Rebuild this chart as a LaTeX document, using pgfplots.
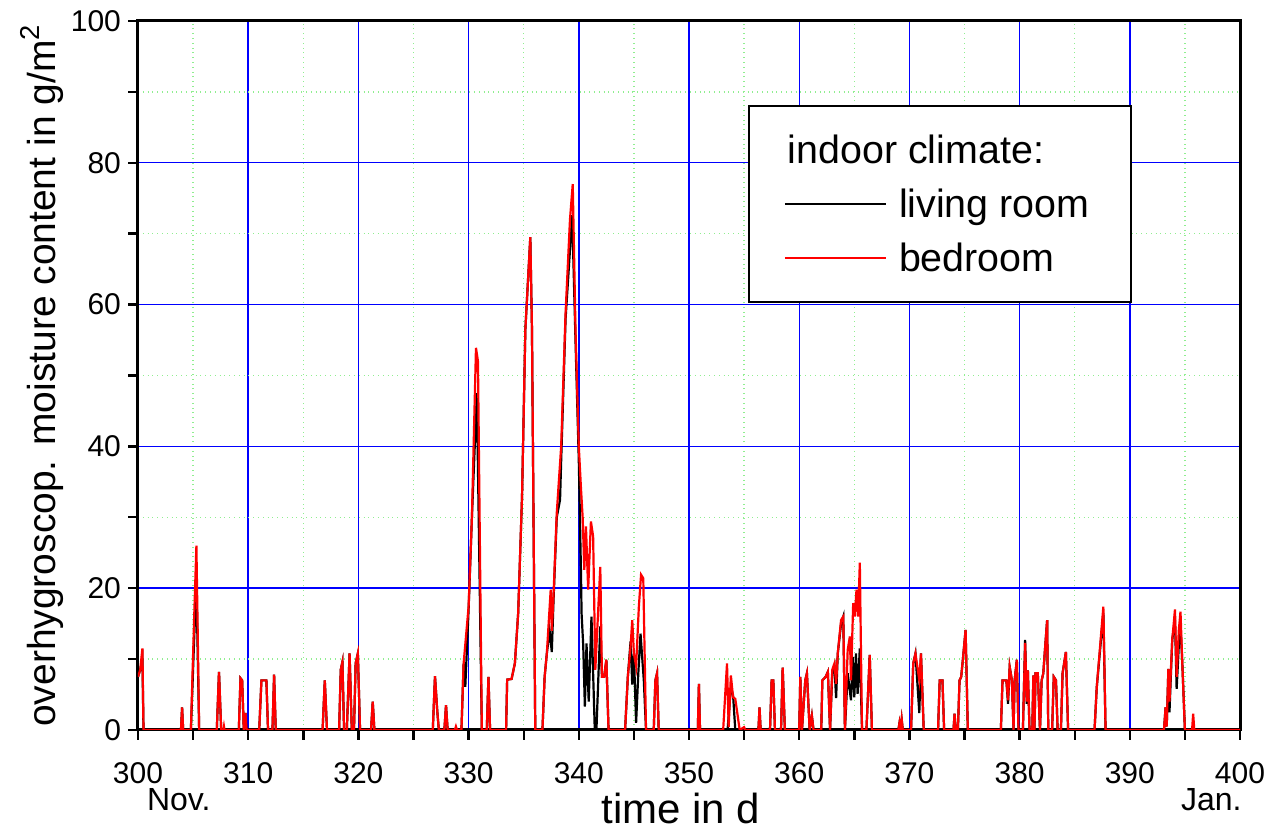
\documentclass[border=0pt]{standalone}
\usepackage{fontspec}
\setmainfont{Liberation Sans}
\usepackage{pgfplots}
\pgfplotsset{compat=1.18}
\definecolor{gridgreen}{RGB}{144,238,144}
\pgfplotstableread{
x y
300 7.5
300.2 8.5
300.4 10
300.5 0
303.9 0
304.0 3.2
304.1 0
304.8 0
305.1 13
305.3 20.7
305.55 0
307.15 0
307.35 8.2
307.55 0
309.15 0
309.3 7.3
309.45 7.0
309.6 0
309.75 2.4
309.85 0
311.0 0
311.2 7.0
311.65 7.0
311.8 0
312.2 0
312.35 7.8
312.5 0
316.75 0
316.95 7.0
317.15 0
318.25 0
318.4 8.5
318.55 9.6
318.7 0
318.95 0
319.2 10.8
319.4 0
319.6 0
319.75 9.4
319.95 10.8
320.15 0
321.15 0
321.3 4.0
321.45 0
326.75 0
326.95 7.6
327.15 2.8
327.3 0
327.8 0
327.95 3.5
328.1 0
329.35 0
329.55 9.4
329.7 6.1
330.0 17
330.3 30
330.75 47.5
331.2 0
331.65 0
331.8 7.5
331.95 0
333.4 0
333.5 7.1
333.9 7.2
334.2 9.4
334.5 16.5
334.85 33
335.15 56.5
335.6 69.5
335.75 56.5
336.05 0
336.7 0
336.9 7.5
337.1 10.8
337.35 14
337.55 11
337.7 18
338.0 30
338.3 32.5
338.4 38
338.8 58
339.4 72.6
339.7 55
340.0 38
340.2 22
340.25 16.5
340.4 12
340.55 3.3
340.7 12.2
340.9 4
341.15 16
341.45 0
341.6 0
341.8 8.5
341.95 14.6
342.1 7.5
342.3 7.5
342.5 9.9
342.7 0
344.2 0
344.45 7.5
344.7 12.5
344.85 6.4
345.0 10.8
345.2 1
345.4 8
345.6 13.6
345.9 7
346.1 0
346.8 0
346.95 7
347.1 8
347.25 0
350.8 0
350.9 6.5
351.0 0
353.1 0
353.5 0
353.8 6
354.0 4.9
354.2 0
356.3 0
356.4 3.2
356.5 0
357.35 0
357.5 7
357.65 7
357.8 0
358.35 0
358.5 8.8
358.7 0
360.0 0
360.1 7.5
360.25 0
360.55 7
360.7 8
360.95 0
361.15 2
361.3 0
362.0 0
362.1 7
362.4 7.5
362.6 8.2
362.8 0
363.0 8
363.2 9
363.35 4.5
363.5 10.8
363.8 15
364.0 16
364.15 0
364.4 8
364.7 4.2
364.85 10.3
365.0 4.6
365.15 10.8
365.3 5.1
365.5 11.5
365.7 0
366.1 0
366.4 10.6
366.6 0
369.0 0
369.1 1.0
369.2 0
369.3 1.5
369.4 0
370.15 0
370.35 9.4
370.55 10.8
370.9 2.4
371.05 10.8
371.3 0
372.6 0
372.75 7
373.0 7
373.15 0
374.0 0
374.1 2.3
374.2 0
374.4 0
374.55 7
374.7 7.5
374.85 9.9
375.1 14.1
375.3 0
378.3 0
378.45 7
378.8 7
378.95 3.7
379.1 8.9
379.3 7
379.45 0
379.55 7
379.75 9.9
379.9 0
380.3 0
380.5 12.7
380.65 3.7
380.75 8.4
380.9 0
381.15 0
381.25 7.7
381.35 0
381.45 8
381.65 8
381.85 0
382.0 7
382.15 8
382.3 11.3
382.5 15.5
382.6 0
382.95 0
383.1 7.5
383.3 7
383.45 0
383.75 0
383.9 8
384.2 11
384.4 0
386.8 0
387.0 6
387.6 16.5
387.8 0
393.1 0
393.25 3.2
393.35 0.5
393.5 8.6
393.6 2.5
393.85 12.7
394.1 15.5
394.25 5.8
394.45 12
394.6 14.5
394.75 10
395.0 0
400 0
}\living
\pgfplotstableread{
x y
300 7.5
300.2 8.5
300.4 11.5
300.5 0
303.9 0
304.0 3.2
304.1 0
304.8 0
305.1 16
305.3 26
305.55 0
307.15 0
307.35 8.2
307.55 0
307.75 0
307.8 0.5
307.85 0
309.15 0
309.3 7.3
309.45 7.0
309.6 0
309.75 2.4
309.85 0
311.0 0
311.2 7.0
311.65 7.0
311.8 0
312.2 0
312.35 7.8
312.5 0
316.75 0
316.95 7.0
317.15 0
318.25 0
318.4 8.5
318.55 9.6
318.7 0
318.95 0
319.2 10.8
319.4 0
319.6 0
319.75 9.4
319.95 10.8
320.15 0
321.15 0
321.3 4.0
321.45 0
326.75 0
326.95 7.6
327.15 2.8
327.3 0
327.8 0
327.95 3.5
328.1 0
328.75 0
328.85 0.5
328.95 0
329.35 0
329.55 9.4
330.0 17.4
330.3 30
330.67 53.9
330.85 52
331.2 0
331.65 0
331.8 7.5
331.95 0
333.4 0
333.5 7.1
333.9 7.2
334.2 9.4
334.5 16.5
334.85 33
335.15 56.5
335.6 69.5
335.75 56.5
336.05 0
336.7 0
336.9 7.5
337.1 10.8
337.45 19.8
337.55 14
337.7 18.8
338.0 30.6
338.4 40
338.8 58.8
339.2 72
339.45 77
339.7 56.5
340.0 40
340.2 34
340.35 30
340.5 22.6
340.65 28.7
340.85 19.8
341.1 29.4
341.3 27.3
341.5 8.5
341.95 23
342.1 7.5
342.3 7.5
342.5 9.9
342.7 0
344.2 0
344.45 7.5
344.7 11.8
344.85 15.5
345.0 10.8
345.2 9
345.45 17.4
345.65 21.9
345.85 21.4
346.1 0
346.8 0
346.95 7
347.1 8
347.25 0
350.8 0
350.9 6.5
351.0 0
353.1 0
353.45 9.4
353.6 0.4
353.8 7.7
354.0 4.6
354.2 4.4
354.6 0
355.0 0.4
355.1 0
356.3 0
356.4 3.2
356.5 0
357.35 0
357.5 7
357.65 7
357.8 0
358.35 0
358.5 8.8
358.7 0
360.0 0
360.1 7.5
360.25 0
360.55 7
360.7 8
360.95 0
361.15 2
361.3 0
362.0 0
362.1 7
362.4 7.5
362.6 8.2
362.8 0
363.0 8.5
363.2 9.4
363.35 6.5
363.5 10.8
363.8 15.5
364.0 16
364.15 0
364.4 11.3
364.6 13.2
364.7 7
364.9 17.9
365.05 16
365.2 19.8
365.35 16
365.5 23.6
365.7 0
366.1 0
366.4 10.6
366.6 0
369.0 0
369.1 1.0
369.2 0
369.3 1.5
369.4 0
370.15 0
370.35 9.4
370.55 10.8
370.9 7
371.05 10.8
371.3 0
372.6 0
372.75 7
373.0 7
373.15 0
374.0 0
374.1 2.3
374.2 0
374.4 0
374.55 7
374.7 7.5
374.85 9.9
375.1 14.1
375.3 0
378.3 0
378.45 7
378.8 7
378.95 4.2
379.1 8.9
379.3 7
379.45 0
379.55 7
379.75 9.9
379.9 0
380.3 0
380.5 12.3
380.65 4
380.75 8.4
380.9 0
381.15 0
381.25 7.7
381.35 0
381.45 8
381.65 8
381.85 0
382.0 7
382.15 8
382.3 11.3
382.5 15.5
382.6 0
382.95 0
383.1 7.5
383.3 7
383.45 0
383.75 0
383.9 8
384.2 11
384.4 0
386.8 0
387.0 6
387.6 17.4
387.8 0
393.1 0
393.25 3.2
393.35 0.5
393.5 8.6
393.6 4
393.85 12.7
394.1 17
394.25 7.5
394.45 14.1
394.6 16.7
394.75 10
395.0 0
395.65 0
395.75 2.3
395.85 0
400 0
}\bedroom
\begin{document}
\begin{tikzpicture}
\begin{axis}[
  width=551pt, height=354.5pt, scale only axis,
  xmin=300, xmax=400, ymin=0, ymax=100,
  xtick={300,310,...,400}, minor xtick={305,315,...,395},
  ytick={0,20,...,100}, minor ytick={10,30,...,90},
  tick pos=left, tick align=outside,
  major tick length=5pt, minor tick length=5pt,
  major tick style={black, line width=1.2pt},
  minor tick style={black, line width=1.2pt},
  grid=both,
  major grid style={blue, line width=0.7pt},
  minor grid style={gridgreen, dotted, line width=0.7pt},
  axis line style={line width=1.5pt},
  /pgf/number format/assume math mode=true,
  tick label style={font=\fontsize{15}{17}\selectfont},
  xticklabel style={yshift=-7.5pt},
  xlabel={time in d},
  ylabel={overhygroscop. moisture content in g/m\textsuperscript{2}},
  xlabel style={font=\fontsize{21}{25}\selectfont, at={(axis description cs:0.4927,-0.1312)}, anchor=base},
  ylabel style={font=\fontsize{19.5}{23}\selectfont, at={(axis description cs:-0.0753,0.5)}, anchor=base},
  clip mode=individual,
  legend cell align=left,
  legend image code/.code={\draw[#1, line width=1pt] (0pt,0pt) -- (50.5pt,0pt); \path (53.5pt,0pt);},
  legend style={at={(axis description cs:0.5535,0.8815)}, anchor=north west,
    draw=black, line width=1pt, fill=white,
    font=\fontsize{19.7}{23}\selectfont,
    inner xsep=17.5pt, inner ysep=12pt, row sep=7pt,
    nodes={inner xsep=3pt, inner ysep=2pt, text height=14.5pt, text depth=1.5pt}},
]
\addlegendimage{empty legend}
\addlegendentry{\hspace*{-55.6pt}indoor climate:}
\addplot[black, line width=1.1pt] table[x=x,y=y] {\living};
\addlegendentry{living room}
\addplot[red, line width=1.1pt] table[x=x,y=y] {\bedroom};
\addlegendentry{bedroom}
\node[anchor=base, font=\fontsize{16}{18}\selectfont] at (axis cs:303.7,0) [yshift=-40pt] {Nov.};
\node[anchor=base, font=\fontsize{16}{18}\selectfont] at (axis cs:397.4,0) [yshift=-40pt] {Jan.};
\end{axis}
\pgfresetboundingbox
\path ([shift={(-69pt,-50pt)}]current axis.south west) rectangle ([shift={(20.5pt,10.5pt)}]current axis.north east);
\end{tikzpicture}
\end{document}
